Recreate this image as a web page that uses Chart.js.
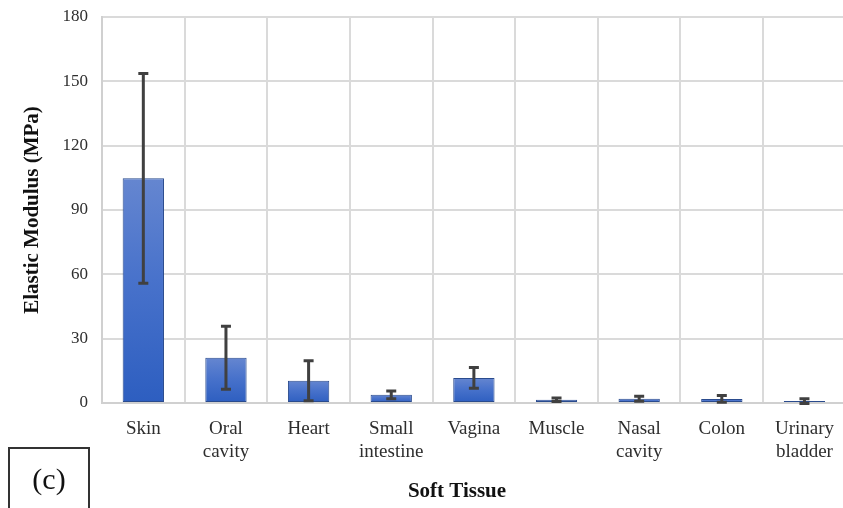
<!DOCTYPE html>
<html>
<head>
<meta charset="utf-8">
<title>Elastic Modulus of Soft Tissues</title>
<script src="https://cdn.jsdelivr.net/npm/chart.js@4/dist/chart.umd.min.js"></script>
<style>
  html, body { margin: 0; padding: 0; background: #ffffff; overflow: hidden; }
  #wrap { width: 843px; height: 508px; overflow: hidden; position: relative; }
  canvas { display: block; }
</style>
</head>
<body>
<div id="wrap"><canvas id="chart" width="849" height="508"></canvas></div>
<script>
// Tissue categories (multi-line labels)
const tissues = [
  'Skin', ['Oral', 'cavity'], 'Heart', ['Small', 'intestine'], 'Vagina',
  'Muscle', ['Nasal', 'cavity'], 'Colon', ['Urinary', 'bladder']
];
// Mean elastic modulus (MPa)
const modulusMean = [104.8, 21.1, 10.4, 3.8, 11.7, 1.5, 2.0, 1.9, 0.9];
// Standard deviation (MPa)
const modulusSD = [48.9, 14.7, 9.3, 1.8, 4.8, 0.8, 1.2, 1.6, 1.1];
// Value axis ticks
const yTickValues = [0, 30, 60, 90, 120, 150, 180];

const SERIF = '"Liberation Serif", "Times New Roman", serif';

// Per-bar vertical gradient, built from the bar's own value on the y scale
function barGradient(ctx) {
  const chart = ctx.chart;
  const y = chart.scales.y;
  if (!y || ctx.type !== 'data') return '#3f6ac8';
  const top = y.getPixelForValue(ctx.parsed ? ctx.parsed.y : modulusMean[ctx.dataIndex]);
  const base = y.getPixelForValue(0);
  if (!isFinite(top) || !isFinite(base) || top === base) return '#3f6ac8';
  const g = chart.ctx.createLinearGradient(0, top, 0, base);
  g.addColorStop(0, '#6586d0');
  g.addColorStop(0.45, '#4872cb');
  g.addColorStop(1, '#2d5ec0');
  return g;
}

// Error bars drawn from the mean ± SD through the y scale
const errorBars = {
  id: 'errorBars',
  afterDatasetsDraw(chart) {
    const meta = chart.getDatasetMeta(0);
    const y = chart.scales.y;
    const c = chart.ctx;
    c.save();
    c.strokeStyle = '#404040';
    c.lineWidth = 3;
    c.lineCap = 'butt';
    const cap = 5;
    meta.data.forEach((bar, i) => {
      const hi = y.getPixelForValue(modulusMean[i] + modulusSD[i]);
      const lo = y.getPixelForValue(modulusMean[i] - modulusSD[i]);
      const x = bar.x;
      c.beginPath();
      c.moveTo(x, hi); c.lineTo(x, lo);
      c.moveTo(x - cap, hi); c.lineTo(x + cap, hi);
      c.moveTo(x - cap, lo); c.lineTo(x + cap, lo);
      c.stroke();
    });
    c.restore();
  }
};

// Category axis title and the panel tag "(c)"
const annotations = {
  id: 'annotations',
  afterDraw(chart) {
    const c = chart.ctx;
    c.save();
    c.fillStyle = '#111111';
    c.textAlign = 'center';
    c.textBaseline = 'middle';
    c.font = 'bold 21px ' + SERIF;
    c.fillText('Soft Tissue', 457, 492);

    c.strokeStyle = '#333333';
    c.lineWidth = 2;
    c.strokeRect(9, 448, 80, 70);
    c.font = '30px ' + SERIF;
    c.fillText('(c)', 49, 481);
    c.restore();
  }
};

new Chart(document.getElementById('chart'), {
  type: 'bar',
  data: {
    labels: tissues,
    datasets: [{
      label: 'Elastic Modulus (MPa)',
      data: modulusMean,
      backgroundColor: barGradient,
      borderColor: '#2a4b8d',
      borderWidth: 1,
      borderSkipped: false,
      categoryPercentage: 1.0,
      barPercentage: 0.5
    }]
  },
  options: {
    responsive: false,
    animation: false,
    devicePixelRatio: 1,
    layout: { padding: { top: 17, right: 0, bottom: 0, left: 0 } },
    plugins: {
      legend: { display: false },
      tooltip: { enabled: false }
    },
    scales: {
      x: {
        offset: true,
        grid: { color: '#dadada', lineWidth: 2, drawTicks: false, offset: true },
        border: { display: true, color: '#d0d0d0', width: 2 },
        ticks: {
          color: '#2e2e2e',
          padding: 15,
          maxRotation: 0,
          autoSkip: false,
          font: { family: SERIF, size: 19, lineHeight: 1.18 }
        },
        afterFit(scale) { scale.height = 105; }
      },
      y: {
        min: 0,
        max: 180,
        afterBuildTicks(scale) { scale.ticks = yTickValues.map(v => ({ value: v })); },
        grid: { color: '#dadada', lineWidth: 2, drawTicks: false },
        border: { display: true, color: '#d0d0d0', width: 2 },
        ticks: {
          color: '#2e2e2e',
          padding: 14,
          font: { family: SERIF, size: 17 }
        },
        title: {
          display: true,
          text: 'Elastic Modulus (MPa)',
          color: '#111111',
          font: { family: SERIF, size: 21, weight: 'bold', lineHeight: 1.2 },
          padding: { top: 20, bottom: 0 }
        },
        afterFit(scale) {
          scale.width = 102;
          scale.paddingTop = 0;
          scale.paddingBottom = 0;
        }
      }
    }
  },
  plugins: [errorBars, annotations]
});
</script>
</body>
</html>
